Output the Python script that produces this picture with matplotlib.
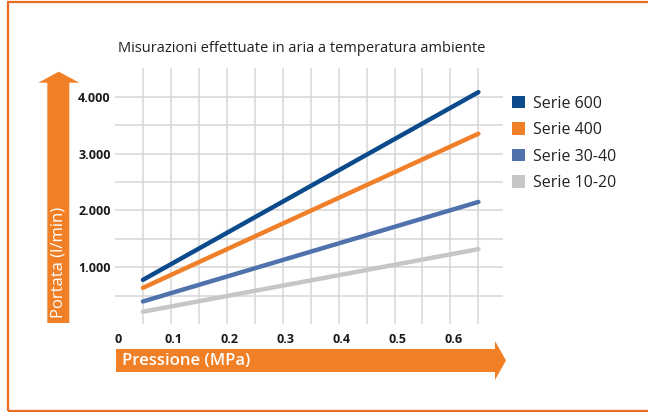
import matplotlib
matplotlib.use("Agg")
import matplotlib.pyplot as plt
from matplotlib.patches import Polygon, Patch, Rectangle
import matplotlib.transforms as mtransforms

plt.rcParams['font.family'] = ['Open Sans', 'DejaVu Sans']

# data
pressure = [0.05, 0.65]
series_names = ['Serie 600', 'Serie 400', 'Serie 30-40', 'Serie 10-20']
serie_600 = [780, 4080]
serie_400 = [640, 3350]
serie_30_40 = [400, 2150]
serie_10_20 = [220, 1320]
colors = ['#0b4a8b', '#f07f2a', '#4f72ad', '#c6c6c6']

x_ticks = [0, 0.1, 0.2, 0.3, 0.4, 0.5, 0.6]
x_tick_labels = ['0', '0.1', '0.2', '0.3', '0.4', '0.5', '0.6']
y_ticks = [1000, 2000, 3000, 4000]
y_tick_labels = ['1.000', '2.000', '3.000', '4.000']

title = 'Misurazioni effettuate in aria a temperatura ambiente'
x_label = 'Pressione (MPa)'
y_label = 'Portata (l/min)'

W, H = 648, 412
fig = plt.figure(figsize=(W / 100, H / 100), dpi=100)

def fx(px):
    return px / W

def fy(py):
    return 1 - py / H

ax = fig.add_axes([fx(115), fy(324.2), fx(503) - fx(115), fy(68.3) - fy(324.2)])
ax.set_xlim(0.0015, 0.694)
ax.set_ylim(0, 4500)

# grid
for gx in [0.05 * i for i in range(1, 14)]:
    ax.axvline(gx, color='#d6d6d6', lw=1.1, zorder=0)
for gy in range(500, 4001, 500):
    ax.axhline(gy, color='#d6d6d6', lw=1.1, zorder=0)

all_series = [serie_600, serie_400, serie_30_40, serie_10_20]
for name, vals, c in zip(series_names, all_series, colors):
    ax.plot(pressure, vals, color=c, lw=3.2, solid_capstyle='round', zorder=3)

for s in ax.spines.values():
    s.set_visible(False)
ax.set_xticks(x_ticks)
ax.set_xticklabels(x_tick_labels, fontsize=9, fontweight='bold', color='#1a1a1a')
ax.set_yticks(y_ticks)
ax.set_yticklabels(y_tick_labels, fontsize=9, fontweight='bold', color='#1a1a1a')
ax.tick_params(length=0)
ax.tick_params(axis='x', pad=6)
ax.tick_params(axis='y', pad=3)
off = mtransforms.ScaledTranslation(3 / 100, 0, fig.dpi_scale_trans)
for lab in ax.get_xticklabels():
    lab.set_transform(lab.get_transform() + off)

# legend
handles = [Patch(facecolor=c, edgecolor='none') for c in colors]
ax.legend(handles, series_names, loc='upper left',
          bbox_to_anchor=(fx(512), fy(95.5)), bbox_transform=fig.transFigure,
          frameon=False, fontsize=11.5, handlelength=0.8, handleheight=0.8,
          handletextpad=0.5, labelspacing=0.66, borderpad=0, borderaxespad=0,
          labelcolor='#222222')

# title
fig.text(fx(301.5), fy(49), title, ha='center', va='center', fontsize=10.5, color='#222222')

orange = '#f07f26'
# vertical arrow
varrow = [(47.3, 323), (47.3, 82.7), (38.3, 82.7), (58.8, 71.7), (79.3, 82.7),
          (69.3, 82.7), (69.3, 323)]
fig.patches.append(Polygon([(fx(a), fy(b)) for a, b in varrow], closed=True,
                           transform=fig.transFigure, facecolor=orange, edgecolor='none'))
fig.text(fx(58.5), fy(318), y_label, rotation=90, ha='center', va='bottom',
         fontsize=12, color='white')

# horizontal arrow
harrow = [(116, 349), (495, 349), (495, 341), (506, 360.5), (495, 380),
          (495, 372), (116, 372)]
fig.patches.append(Polygon([(fx(a), fy(b)) for a, b in harrow], closed=True,
                           transform=fig.transFigure, facecolor=orange, edgecolor='none'))
fig.text(fx(122), fy(361), x_label, ha='left', va='center', fontsize=12,
         fontweight='semibold', color='white')

# frame
fig.patches.append(Rectangle((fx(8), fy(410.5)), fx(700), fy(1.5) - fy(410.5),
                             transform=fig.transFigure, fill=False,
                             edgecolor='#ea6c1f', lw=1.6))

fig.savefig('out.png', dpi=100)
